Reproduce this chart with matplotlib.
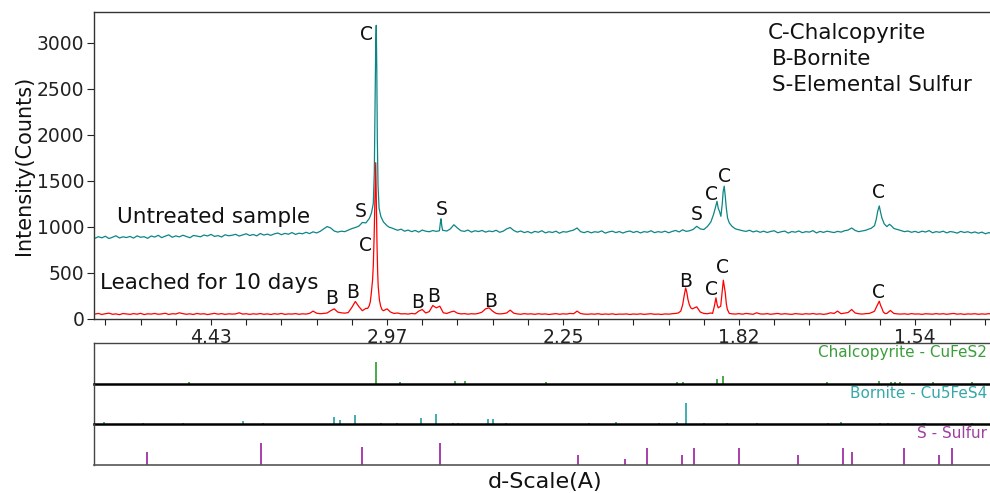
import numpy as np
import matplotlib
matplotlib.use("Agg")
import matplotlib.pyplot as plt
from matplotlib.ticker import MultipleLocator

plt.rcParams['font.family'] = ['DejaVu Sans']

# ---------------- data (2-theta in degrees, intensity in counts) ----------------
# baseline readings every 0.2 deg from 13.4 to 64.6
base_start, base_step = 13.4, 0.2
teal_base = [
    872, 890, 878, 895, 870, 884, 900, 876, 889, 881,
    893, 875, 899, 884, 890, 872, 898, 886, 905, 880,
    896, 910, 884, 899, 888, 906, 892, 879, 903, 897,
    889, 908, 898, 915, 893, 902, 887, 911, 900, 906,
    916, 897, 910, 922, 903, 914, 899, 925, 908, 918,
    905, 921, 930, 912, 926, 917, 935, 915, 928, 922,
    938, 924, 943, 931, 948, 975, 1000, 985, 952, 940,
    950, 945, 962, 978, 990, 1005, 1045, 1030, 1080, 1200,
    2600, 1300, 1100, 1030, 990, 975, 960, 972, 950, 962,
    945, 958, 940, 962, 950, 944, 957, 948, 1085, 965,
    952, 975, 1020, 985, 955, 948, 962, 940, 955, 946,
    958, 940, 952, 945, 960, 938, 950, 975, 990, 958,
    940, 952, 935, 946, 930, 948, 938, 955, 932, 944,
    936, 950, 928, 945, 940, 952, 962, 985, 945, 934,
    948, 932, 944, 938, 953, 929, 942, 950, 935, 946,
    930, 944, 952, 936, 948, 931, 945, 939, 955, 934,
    945, 938, 950, 933, 947, 958, 942, 965, 948, 955,
    970, 1003, 975, 968, 1000, 1060, 1180, 1200, 1150, 1350,
    1080, 1010, 980, 965, 955, 948, 960, 942, 953, 938,
    950, 936, 947, 955, 933, 944, 951, 930, 946, 939,
    952, 934, 945, 940, 956, 931, 948, 937, 950, 942,
    935, 948, 940, 955, 962, 985, 958, 945, 952, 960,
    975, 1000, 1150, 1210, 1060, 1000, 1022, 985, 968, 955,
    945, 952, 938, 948, 935, 950, 941, 956, 933, 945,
    938, 950, 932, 946, 940, 929, 948, 936, 944, 931,
    942, 928, 940, 922, 935, 918, 925,
]
red_base = [
    48, 55, 44, 52, 58, 46, 50, 42, 54, 49,
    45, 53, 47, 56, 43, 51, 48, 55, 46, 50,
    57, 44, 52, 49, 62, 53, 46, 51, 44, 55,
    48, 52, 43, 50, 56, 47, 53, 45, 51, 48,
    50, 62, 48, 52, 45, 51, 47, 54, 46, 50,
    44, 52, 47, 55, 45, 50, 48, 53, 46, 51,
    48, 56, 80, 58, 52, 55, 60, 85, 105, 70,
    62, 58, 65, 120, 185, 130, 85, 110, 135, 280,
    1600, 200, 85, 105, 70, 55, 60, 50, 52, 48,
    55, 50, 80, 98, 60, 75, 141, 116, 134, 62,
    55, 70, 80, 58, 50, 53, 47, 52, 49, 56,
    70, 105, 116, 80, 55, 50, 53, 60, 91, 58,
    50, 46, 53, 48, 51, 45, 52, 47, 50, 44,
    49, 53, 46, 51, 48, 55, 52, 80, 54, 48,
    46, 50, 47, 52, 45, 49, 46, 51, 44, 48,
    47, 50, 44, 49, 46, 51, 45, 48, 52, 46,
    48, 44, 50, 47, 52, 55, 80, 240, 330, 150,
    110, 127, 70, 55, 52, 60, 134, 130, 180, 300,
    90, 51, 48, 53, 47, 55, 50, 46, 62, 50,
    48, 53, 46, 51, 55, 47, 52, 49, 45, 53,
    50, 46, 52, 48, 54, 47, 51, 45, 50, 62,
    55, 80, 52, 58, 65, 98, 60, 52, 48, 53,
    55, 70, 134, 188, 90, 55, 87, 55, 50, 48,
    51, 46, 53, 48, 50, 45, 52, 49, 47, 53,
    48, 52, 46, 50, 55, 47, 51, 45, 50, 48,
    52, 46, 50, 47, 53, 45, 49,
]

# detailed peak readings (replace baseline samples inside the windows)
teal_windows = [(28.75, 30.15), (32.95, 33.2), (48.15, 49.85), (57.45, 58.85)]
teal_peak_tt = [28.80, 29.00, 29.12, 29.22, 29.28, 29.32, 29.36, 29.39, 29.42, 29.45,
                29.49, 29.55, 29.65, 29.80, 30.00, 30.15,
                32.98, 33.03, 33.07, 33.11, 33.16,
                48.20, 48.40, 48.55, 48.65, 48.75, 48.82, 48.90, 48.97, 49.05, 49.10,
                49.16, 49.22, 49.28, 49.35, 49.45, 49.60, 49.80,
                57.50, 57.70, 57.80, 57.88, 57.97, 58.05, 58.12, 58.25, 58.40, 58.55,
                58.65, 58.80]
teal_peak_counts = [1040, 1090, 1150, 1250, 1600, 2300, 3000, 3190, 2700, 1950,
                    1450, 1200, 1110, 1050, 1010, 990,
                    955, 1040, 1085, 1010, 960,
                    1000, 1050, 1130, 1200, 1275, 1200, 1160, 1112, 1250, 1380,
                    1440, 1330, 1200, 1094, 1040, 1003, 975,
                    980, 1010, 1080, 1166, 1225, 1150, 1094, 1030, 1000, 1025,
                    1010, 980]

red_windows = [(28.85, 29.75), (46.55, 47.35), (48.45, 49.5), (57.65, 58.3)]
red_peak_tt = [28.90, 28.98, 29.05, 29.11, 29.18, 29.22, 29.27, 29.30, 29.33, 29.36,
               29.39, 29.43, 29.47, 29.50, 29.57, 29.64, 29.72,
               46.55, 46.69, 46.80, 46.88, 46.97, 47.04, 47.10, 47.18, 47.26, 47.35,
               48.50, 48.60, 48.69, 48.76, 48.82, 48.96, 49.05, 49.11, 49.17, 49.22,
               49.28, 49.34, 49.45,
               57.70, 57.83, 57.97, 58.05, 58.11, 58.20, 58.30]
red_peak_counts = [110, 134, 180, 279, 420, 569, 900, 1185, 1500, 1696,
                   1300, 823, 500, 351, 200, 134, 95,
                   60, 80, 150, 243, 333, 280, 207, 150, 116, 105,
                   55, 134, 225, 150, 116, 134, 300, 417, 340, 279,
                   160, 98, 55,
                   80, 134, 188, 140, 116, 70, 54]

# reference patterns (2-theta, relative intensity)
chalco_tt = [18.75, 29.375, 30.74, 33.86, 34.43, 39.03, 46.48, 46.82, 48.75, 49.09,
             55.0, 57.95, 58.64, 58.86, 59.15, 61.02, 63.24]
chalco_int = [5, 100, 5, 10, 10, 5, 5, 5, 19, 33, 5, 14, 5, 5, 5, 5, 5]

bornite_tt = [13.92, 16.14, 18.41, 21.82, 22.95, 26.99, 27.33, 28.18, 29.66, 30.57,
              31.93, 32.78, 33.75, 34.03, 35.74, 36.02, 36.76, 41.48, 43.01, 45.45,
              46.48, 46.99, 48.01, 49.32, 51.02, 55.06, 55.80, 58.01, 58.47, 60.45,
              60.57, 63.24]
bornite_int = [10, 5, 5, 14, 5, 33, 19, 43, 5, 5,
               29, 48, 5, 5, 24, 24, 5, 5, 10, 5,
               10, 100, 5, 5, 5, 5, 10, 5, 5, 5,
               5, 5]

sulfur_tt = [16.36, 22.84, 28.58, 33.01, 40.85, 43.52, 44.77, 46.76, 47.44, 50.0,
             53.35, 55.91, 56.42, 59.38, 61.36, 62.10]
sulfur_int = [57, 100, 81, 100, 43, 24, 76, 43, 76, 76,
              43, 76, 57, 76, 43, 76]

tick_2theta = [20, 30, 40, 50, 60]
d_labels = ["4.43", "2.97", "2.25", "1.82", "1.54"]
y_ticks = [0, 500, 1000, 1500, 2000, 2500, 3000]

teal_labels = [("C", 28.86, 3087), ("S", 28.52, 1163), ("S", 33.13, 1185),
               ("S", 47.61, 1130), ("C", 48.41, 1348), ("C", 49.20, 1544),
               ("C", 57.90, 1370)]
red_labels = [("C", 28.75, 794), ("B", 26.88, 217), ("B", 28.07, 283),
              ("B", 31.76, 174), ("B", 32.67, 239), ("B", 35.91, 185),
              ("B", 46.99, 402), ("C", 48.41, 315), ("C", 49.09, 554),
              ("C", 57.95, 283)]


def assemble(base, windows, ptt, pc):
    tt = base_start + base_step * np.arange(len(base))
    b = np.asarray(base, float)
    keep = np.ones(len(tt), bool)
    for a, z in windows:
        keep &= ~((tt >= a) & (tt <= z))
    x = np.concatenate([tt[keep], ptt])
    y = np.concatenate([b[keep], pc])
    o = np.argsort(x)
    return x[o], y[o]


teal_x, teal_y = assemble(teal_base, teal_windows, teal_peak_tt, teal_peak_counts)
red_x, red_y = assemble(red_base, red_windows, red_peak_tt, red_peak_counts)

# ---------------- figure ----------------
W, H = 990, 493
fig = plt.figure(figsize=(W / 100, H / 100), dpi=100)

def fx(px):
    return px / W

def fy(py):
    return 1 - py / H

left_px, right_px = 94, 996
x_lo = 20 + (left_px - 211) / 17.6
x_hi = 20 + (right_px - 211) / 17.6

ax = fig.add_axes([fx(left_px), fy(318.5), fx(right_px) - fx(left_px), fy(12) - fy(318.5)])
teal = '#0d8585'
red = '#ff0000'
ax.plot(teal_x, teal_y, color=teal, lw=0.9)
ax.plot(red_x, red_y, color=red, lw=0.9)
ax.set_xlim(x_lo, x_hi)
ax.set_ylim(0, 3335)

ax.set_xticks(tick_2theta)
ax.set_xticklabels(d_labels)
ax.xaxis.set_minor_locator(MultipleLocator(2))
ax.set_yticks(y_ticks)
ax.tick_params(axis='x', which='both', direction='out', length=4, width=0.8,
               labelsize=13.5, pad=3, colors='#222222')
ax.tick_params(axis='y', direction='out', length=5, width=0.8, labelsize=13.5, pad=2,
               colors='#222222')
for s in ['left', 'top', 'bottom']:
    ax.spines[s].set_color('#333333')
    ax.spines[s].set_linewidth(1.0)
ax.spines['right'].set_visible(False)
ax.set_ylabel('Intensity(Counts)', fontsize=15, labelpad=2, color='#111111')

for t, xx, yy in teal_labels + red_labels:
    ax.text(xx, yy, t, fontsize=13.5, ha='center', va='center', color='#111111')

ax.text(20 + (117 - 211) / 17.6, 1109, 'Untreated sample', fontsize=15.5,
        ha='left', va='center', color='#111111')
ax.text(20 + (100 - 211) / 17.6, 391, 'Leached for 10 days', fontsize=15.5,
        ha='left', va='center', color='#111111')

fig.text(fx(768), fy(33), 'C-Chalcopyrite', fontsize=15.5, ha='left', va='center', color='#111111')
fig.text(fx(772), fy(59), 'B-Bornite', fontsize=15.5, ha='left', va='center', color='#111111')
fig.text(fx(772), fy(85), 'S-Elemental Sulfur', fontsize=15.5, ha='left', va='center', color='#111111')

# ---------------- reference stick panels ----------------
panels = [
    (343, 383.5, chalco_tt, chalco_int, '#2e9a2e', 'Chalcopyrite - CuFeS2', '#3a9e3a'),
    (383.5, 424, bornite_tt, bornite_int, '#23a0a0', 'Bornite - Cu5FeS4', '#35a8a8'),
    (424, 464.5, sulfur_tt, sulfur_int, '#9a1f9a', 'S - Sulfur', '#a040a0'),
]
for i, (top, bot, tt, inten, col, label, lcol) in enumerate(panels):
    pax = fig.add_axes([fx(left_px), fy(bot), fx(right_px) - fx(left_px), fy(top) - fy(bot)])
    pax.vlines(tt, 0, inten, color=col, lw=1.2)
    pax.set_xlim(x_lo, x_hi)
    pax.set_ylim(0, 190)
    pax.set_xticks([])
    pax.set_yticks([])
    pax.patch.set_alpha(0)
    pax.spines['right'].set_visible(False)
    pax.spines['left'].set_color('#444444')
    pax.spines['left'].set_linewidth(1.0)
    if i == 0:
        pax.spines['top'].set_color('#444444')
        pax.spines['top'].set_linewidth(1.0)
    else:
        pax.spines['top'].set_visible(False)
    if i < 2:
        pax.spines['bottom'].set_color('#000000')
        pax.spines['bottom'].set_linewidth(1.8)
    else:
        pax.spines['bottom'].set_color('#555555')
        pax.spines['bottom'].set_linewidth(1.2)
    fig.text(fx(987), fy(top + 10), label, fontsize=11, ha='right', va='center', color=lcol)

fig.text(fx(545), fy(482), 'd-Scale(A)', fontsize=16, ha='center', va='center', color='#111111')

fig.savefig('out.png', dpi=100)
